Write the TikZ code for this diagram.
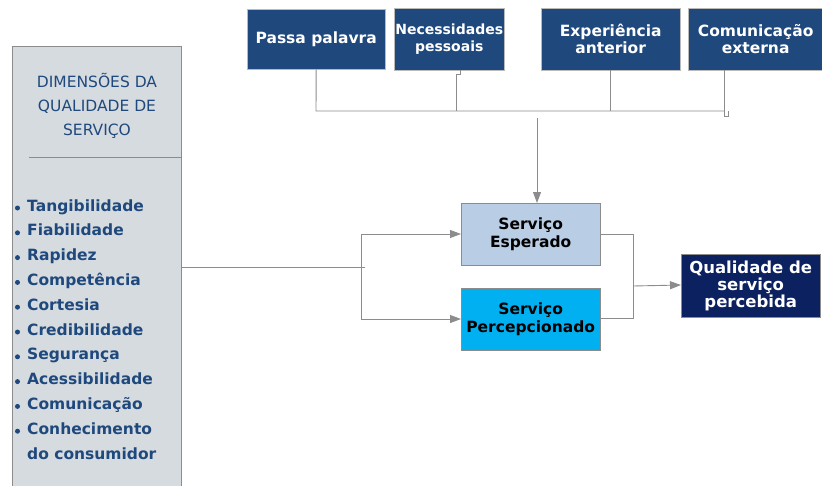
\documentclass[tikz,border=0pt]{standalone}
\usepackage{fontspec}
\setmainfont{DejaVu Sans}
\usetikzlibrary{arrows.meta}
\definecolor{panelgray}{HTML}{D6DBE0}
\definecolor{navy}{HTML}{1F497D}
\definecolor{deepnavy}{HTML}{0C2160}
\definecolor{lightblue}{HTML}{B9CDE5}
\definecolor{cyanblue}{HTML}{00B0F0}
\definecolor{linegray}{HTML}{8C8C8C}
\tikzset{
  topbox/.style={draw=linegray!60, fill=navy, text=white, font=\bfseries\fontsize{15.5}{17}\selectfont, align=center, inner sep=0pt, anchor=north west},
  midbox/.style={draw=linegray, fill=#1, text=black, font=\bfseries\fontsize{15.5}{18}\selectfont, align=center, inner sep=0pt, anchor=north west},
  conn/.style={draw=linegray, line width=0.9pt},
  arr/.style={conn, -{Triangle[length=11pt,width=8pt]}},
  item/.style={anchor=base west, text=navy, font=\bfseries\fontsize{15.5}{17}\selectfont, inner sep=0pt},
  dot/.style={circle, fill=navy, inner sep=0pt, minimum size=5pt}
}
\begin{document}
\begin{tikzpicture}[x=1pt, y=-1pt]
\useasboundingbox (0,0) rectangle (822,485);
% left panel with the quality dimensions
\fill[panelgray] (12,46) rectangle (181,486);
\draw[linegray, line width=0.9pt] (12,486) -- (12,46) -- (181,46) -- (181,486);
\draw[linegray, line width=0.9pt] (29,157) -- (181,157);
\node[text=navy, font=\fontsize{15.5}{24}\selectfont, align=center] (title) at (97,106) {DIMENSÕES DA\\QUALIDADE DE\\SERVIÇO};
\foreach \t [count=\i] in {Tangibilidade,Fiabilidade,Rapidez,Competência,Cortesia,Credibilidade,Segurança,Acessibilidade,Comunicação,Conhecimento}{
  \node[dot] (d\i) at (17.5,{208+(\i-1)*24.8}) {};
  \node[item] (it\i) at (27,{211+(\i-1)*24.8}) {\t};
}
\node[item] (it11) at (27,459) {do consumidor};
% top influence boxes
\node[topbox, minimum width=138pt, minimum height=60pt] (pp) at (247,9) {Passa palavra};
\node[topbox, minimum width=110pt, minimum height=62pt, font=\bfseries\fontsize{14}{17}\selectfont] (np) at (394,8) {Necessidades\\pessoais};
\node[topbox, minimum width=139pt, minimum height=62pt] (ea) at (541,8) {Experiência\\anterior};
\node[topbox, minimum width=135pt, minimum height=62pt] (ce) at (688,8) {Comunicação\\externa};
% service boxes
\node[midbox=lightblue, minimum width=139pt, minimum height=62pt] (se) at (461,203) {Serviço\\Esperado};
\node[midbox=cyanblue, minimum width=139pt, minimum height=62pt] (sp) at (461,288) {Serviço\\Percepcionado};
\node[draw=linegray, fill=deepnavy, text=white, font=\bfseries\fontsize{16.5}{17}\selectfont, align=center, inner sep=0pt, anchor=north west, minimum width=139pt, minimum height=63pt] (qs) at (681,254) {Qualidade de\\serviço\\percebida};
% collector of the top boxes
\coordinate (bus) at (537,118);
\draw[conn] (pp.south) -- (316,111) -- (724,111);
\draw[conn] (np.south -| 460,0) -- (460,74) -- (456,74) -- (456,111);
\draw[conn] (ea.south -| 610,0) -- (610,111);
\draw[conn] (ce.south -| 724,0) -- (724,116) -- (728,116) -- (728,111);
\draw[arr] (bus) -- (se.north -| bus);
% from the dimensions panel to both services
\coordinate (fork) at (361,267);
\draw[conn] (181,267) -- (365,267);
\draw[arr] (fork) -- (361,234) -- (se.west |- 0,234);
\draw[arr] (fork) -- (361,319) -- (sp.west |- 0,319);
% merge into perceived quality
\coordinate (join) at (633,286);
\draw[conn] (se.east |- 0,234) -- (633,234) -- (633,318) -- (sp.east |- 0,318);
\draw[arr] (join) -- (qs.west |- 0,285);
\end{tikzpicture}
\end{document}
